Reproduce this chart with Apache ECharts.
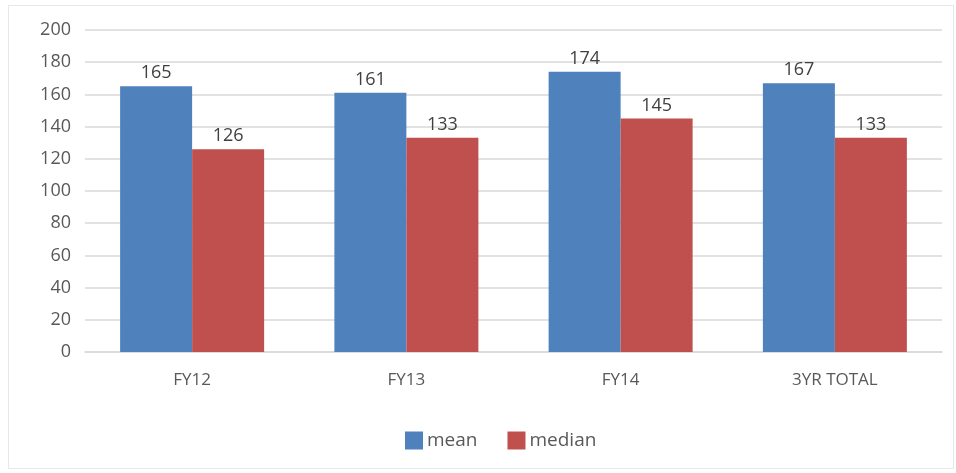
<!DOCTYPE html>
<html><head><meta charset="utf-8">
<script src="https://cdn.jsdelivr.net/npm/echarts@6/dist/echarts.min.js"></script>
<style>
html,body{margin:0;padding:0;background:#fff;}
#frame{position:absolute;left:8px;top:5px;width:946px;height:464px;border:1px solid #e8e8e8;box-sizing:border-box;}
#c{position:absolute;left:0;top:0;width:956px;height:473px;}
</style></head>
<body>
<div id="frame"></div>
<div id="c"></div>
<script>
const categories = ['FY12', 'FY13', 'FY14', '3YR TOTAL'];
const meanValues = [165, 161, 174, 167];
const medianValues = [126, 133, 145, 133];
const seriesNames = ['mean', 'median'];

const chart = echarts.init(document.getElementById('c'), null, {renderer: 'canvas'});
const font = '"Open Sans", sans-serif';
const labelStyle = {show: true, position: 'top', color: '#404040', fontSize: 18, fontFamily: font, distance: 4};
chart.setOption({
  animation: false,
  backgroundColor: 'transparent',
  grid: {left: 85, right: 14, top: 30, bottom: 121, containLabel: false},
  legend: {
    top: 426, left: 400, itemWidth: 18, itemHeight: 18, itemGap: 30,
    icon: 'rect',
    textStyle: {color: '#595959', fontSize: 19, fontFamily: font, padding: [0, 0, 0, -1]},
    data: seriesNames
  },
  xAxis: {
    type: 'category', data: categories,
    axisLine: {show: true, lineStyle: {color: '#d9d9d9', width: 1.5}},
    axisTick: {show: false},
    axisLabel: {color: '#595959', fontSize: 17, fontFamily: font, margin: 20}
  },
  yAxis: {
    type: 'value', min: 0, max: 200, interval: 20,
    axisLine: {show: false}, axisTick: {show: false},
    splitLine: {lineStyle: {color: '#d9d9d9', width: 1.5}},
    axisLabel: {color: '#595959', fontSize: 18, fontFamily: font, margin: 14, align: 'right'}
  },
  series: [
    {name: seriesNames[0], type: 'bar', data: meanValues, barWidth: 72, barGap: '0%',
     itemStyle: {color: '#4f81bd'}, label: labelStyle},
    {name: seriesNames[1], type: 'bar', data: medianValues, barWidth: 72, barGap: '0%',
     itemStyle: {color: '#c0504d'}, label: labelStyle}
  ]
});
</script>
</body></html>
